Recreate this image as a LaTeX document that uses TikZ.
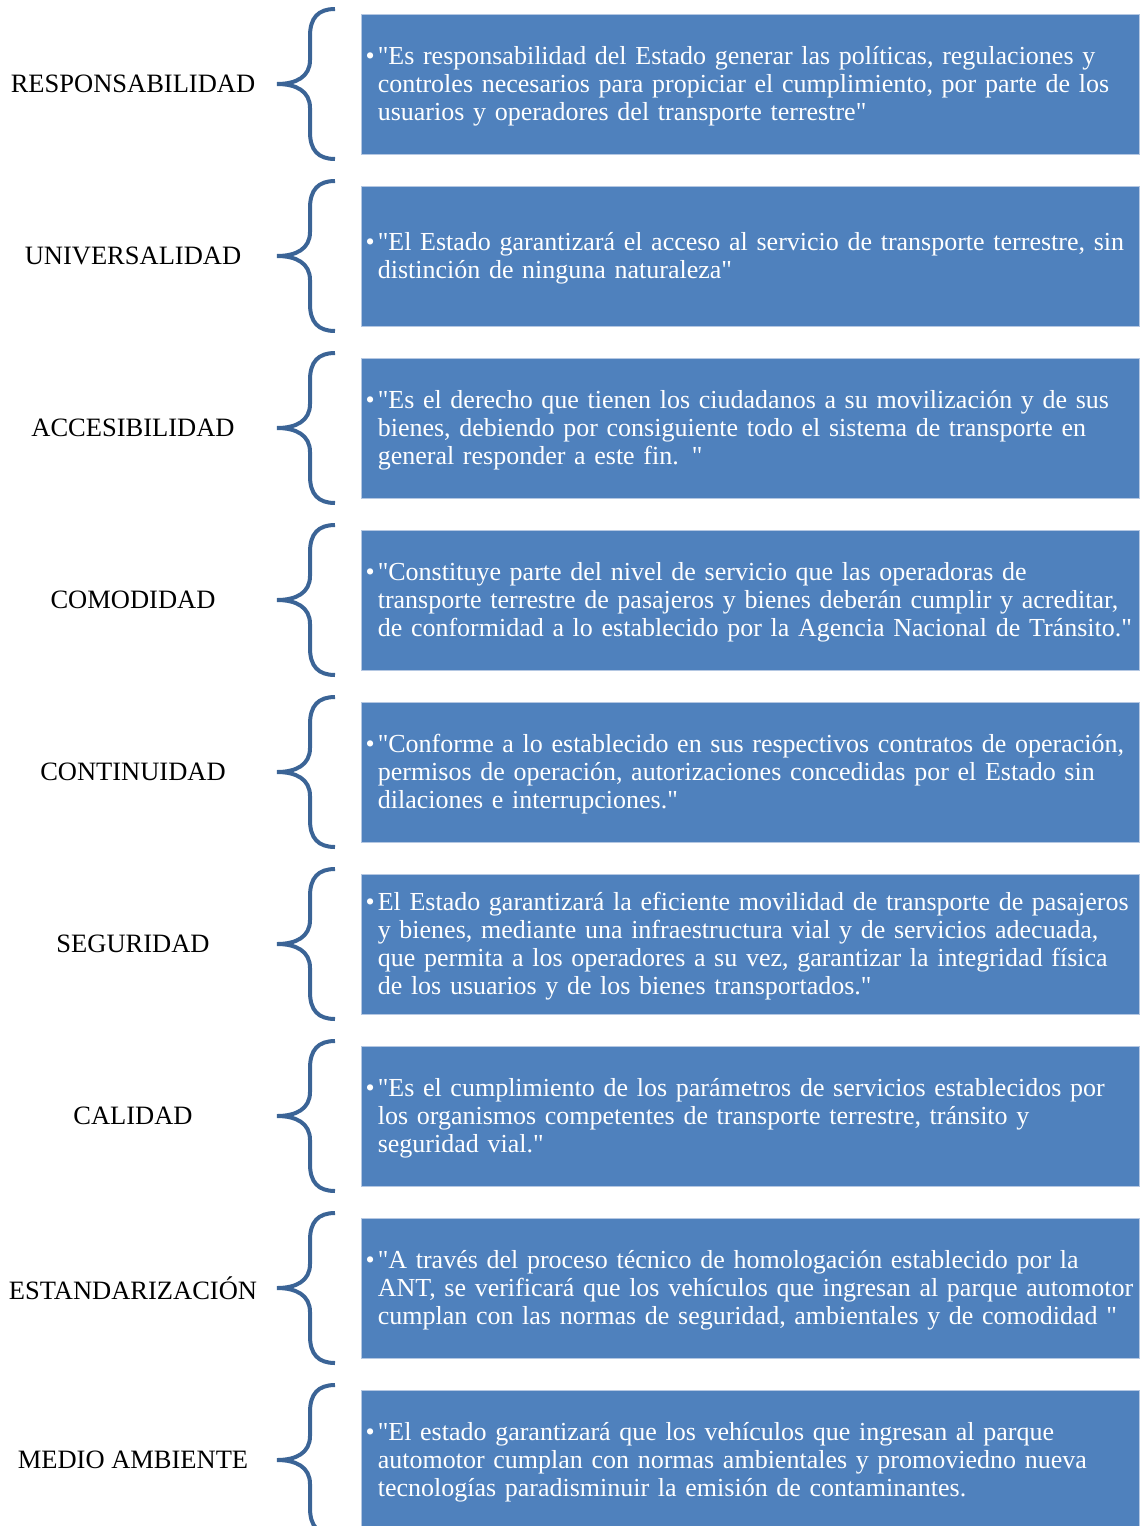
\documentclass[tikz,border=0pt]{standalone}
\usepackage{fontspec}
\setmainfont{Liberation Serif}[Ligatures=TeXOff]
\usepackage{xcolor}
\definecolor{boxblue}{HTML}{4F81BD}
\definecolor{boxedge}{HTML}{B4C7E2}
\definecolor{bracecol}{HTML}{3B6496}
\usepackage{tikz}
\usetikzlibrary{positioning}

\begin{document}
\begin{tikzpicture}[x=1pt, y=-1pt,
  descbox/.style={rectangle, draw=boxedge, line width=0.8pt, fill=boxblue, minimum width=778pt, minimum height=140pt, inner sep=0pt},
  desctext/.style={anchor=west, text width=775pt, align=left, text=white, inner sep=0pt, yshift=-2pt, font=\fontsize{26}{28}\selectfont},
  principle/.style={font=\fontsize{26.5}{28}\selectfont},
  curly/.style={draw=bracecol, line width=4pt}
]
  \useasboundingbox (0,0) rectangle (1144,1526);
  \foreach \i/\lbl/\txt in {
    1/RESPONSABILIDAD/{"Es responsabilidad del Estado generar las políticas, regulaciones y\\controles necesarios para propiciar el cumplimiento, por parte de los\\usuarios y operadores del transporte terrestre"},
    2/UNIVERSALIDAD/{"El Estado garantizará el acceso al servicio de transporte terrestre, sin\\distinción de ninguna naturaleza"},
    3/ACCESIBILIDAD/{"Es el derecho que tienen los ciudadanos a su movilización y de sus\\bienes, debiendo por consiguiente todo el sistema de transporte en\\general responder a este fin. "},
    4/COMODIDAD/{"Constituye parte del nivel de servicio que las operadoras de\\transporte terrestre de pasajeros y bienes deberán cumplir y acreditar,\\de conformidad a lo establecido por la Agencia Nacional de Tránsito."},
    5/CONTINUIDAD/{"Conforme a lo establecido en sus respectivos contratos de operación,\\permisos de operación, autorizaciones concedidas por el Estado sin\\dilaciones e interrupciones."},
    6/SEGURIDAD/{El Estado garantizará la eficiente movilidad de transporte de pasajeros\\y bienes, mediante una infraestructura vial y de servicios adecuada,\\que permita a los operadores a su vez, garantizar la integridad física\\de los usuarios y de los bienes transportados."},
    7/CALIDAD/{"Es el cumplimiento de los parámetros de servicios establecidos por\\los organismos competentes de transporte terrestre, tránsito y\\seguridad vial."},
    8/ESTANDARIZACIÓN/{"A través del proceso técnico de homologación establecido por la\\ANT, se verificará que los vehículos que ingresan al parque automotor\\cumplan con las normas de seguridad, ambientales y de comodidad "},
    9/MEDIO AMBIENTE/{"El estado garantizará que los vehículos que ingresan al parque\\automotor cumplan con normas ambientales y promoviedno nueva\\tecnologías paradisminuir la emisión de contaminantes.}
  }{
    \coordinate (row\i) at (0,{84+172*(\i-1)});
    \node[descbox] (box\i) at ([xshift=750pt]row\i) {};
    \node[principle] (lbl\i) at ([xshift=133pt]row\i) {\lbl};
    % curly brace between label and box
    \begin{scope}[shift={(row\i)}]
      \draw[curly] (335,-75) .. controls (318,-75) and (310,-66) .. (310,-48) -- (310,-24)
        .. controls (310,-7) and (296,0) .. (277,0)
        .. controls (296,0) and (310,7) .. (310,24) -- (310,48)
        .. controls (310,66) and (318,75) .. (335,75);
    \end{scope}
    \node[desctext, right=17pt of box\i.west] (txt\i) {\llap{•\hspace{3pt}}\txt};
  }
\end{tikzpicture}
\end{document}
